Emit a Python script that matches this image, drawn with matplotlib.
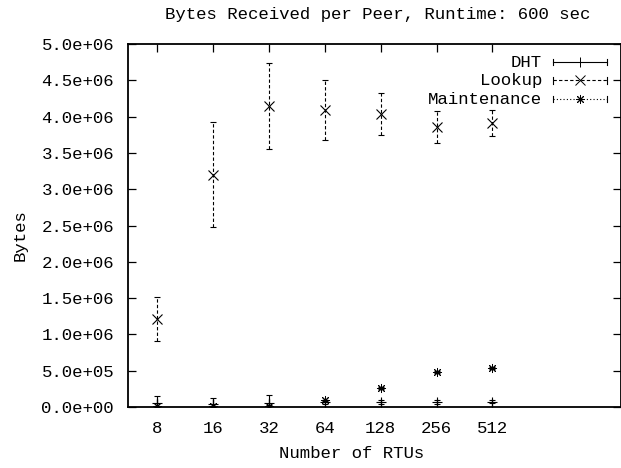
import matplotlib
matplotlib.use("Agg")
import matplotlib.pyplot as plt
from matplotlib.ticker import FuncFormatter
import numpy as np

# data
rtus = ['8', '16', '32', '64', '128', '256', '512']

dht_mean = [0.05e6, 0.04e6, 0.05e6, 0.07e6, 0.07e6, 0.07e6, 0.07e6]
dht_err = [0.10e6, 0.08e6, 0.11e6, 0.03e6, 0.025e6, 0.025e6, 0.02e6]

lookup_mean = [1.21e6, 3.20e6, 4.15e6, 4.09e6, 4.04e6, 3.86e6, 3.91e6]
lookup_err = [0.30e6, 0.72e6, 0.59e6, 0.41e6, 0.29e6, 0.22e6, 0.18e6]

maint_mean = [0.01e6, 0.01e6, 0.02e6, 0.09e6, 0.26e6, 0.48e6, 0.54e6]
maint_err = [0.01e6, 0.01e6, 0.01e6, 0.01e6, 0.01e6, 0.01e6, 0.01e6]

font = 'Liberation Mono'
fs = 12.5
plt.rcParams['font.family'] = font

fig = plt.figure(figsize=(6.21, 4.68), dpi=100)
ax = fig.add_axes([128 / 621, 61 / 468, 493 / 621, 363 / 468])

x = np.arange(1, len(rtus) + 1)

# DHT: solid error bars with plus markers
eb = ax.errorbar(x, dht_mean, yerr=dht_err, fmt='+', color='black', ms=7,
                 mew=0.8, elinewidth=0.8, capsize=2.5, capthick=0.8)

# Lookup: dashed error bars with x markers
eb2 = ax.errorbar(x, lookup_mean, yerr=lookup_err, fmt='x', color='black', ms=7,
                  mew=0.8, elinewidth=0.8, capsize=2.5, capthick=0.8)
eb2[2][0].set_linestyle((0, (3, 2)))

# Maintenance: dotted error bars with asterisks
eb3 = ax.errorbar(x, maint_mean, yerr=maint_err, fmt='none', color='black',
                  elinewidth=0.8, capsize=2.5, capthick=0.8)
eb3[2][0].set_linestyle((0, (1, 2)))
ax.plot(x, maint_mean, linestyle='none', marker=(8, 2, 0), ms=6.5, mew=0.7,
        color='black')

ax.set_xlim(0.48, 9.3)
ax.set_ylim(0, 5e6)
ax.set_xticks(x)
ax.set_xticklabels(rtus)
ax.set_yticks(np.arange(0, 5.01e6, 0.5e6))
ax.yaxis.set_major_formatter(FuncFormatter(lambda v, p: '%.1e' % v))

ax.tick_params(direction='in', length=6, width=0.9, top=True, right=True,
               labelsize=fs, pad=10)
for s in ax.spines.values():
    s.set_linewidth(1.3)

# gnuplot-style key, drawn by hand
keys = ['DHT', 'Lookup', 'Maintenance']
key_y = [0.950, 0.900, 0.848]
key_ls = ['-', (0, (3, 2)), (0, (1, 2))]
key_mk = ['+', 'x', (8, 2, 0)]
for lab, yy, ls, mk in zip(keys, key_y, key_ls, key_mk):
    ax.text(0.840, yy, lab, transform=ax.transAxes, ha='right', va='center',
            fontsize=fs)
    ax.plot([0.862, 0.972], [yy, yy], transform=ax.transAxes, color='black',
            lw=0.8, ls=ls, clip_on=False)
    ax.plot([0.862, 0.862], [yy - 0.009, yy + 0.009], transform=ax.transAxes,
            color='black', lw=0.8, clip_on=False)
    ax.plot([0.972, 0.972], [yy - 0.009, yy + 0.009], transform=ax.transAxes,
            color='black', lw=0.8, clip_on=False)
    ax.plot([0.917], [yy], transform=ax.transAxes, marker=mk, ms=6.5, mew=0.7,
            color='black', clip_on=False)

fig.text(378 / 621, 1 - 15 / 468, 'Bytes Received per Peer, Runtime: 600 sec',
         ha='center', va='center', fontsize=fs)
fig.text(352 / 621, 1 - 453 / 468, 'Number of RTUs', ha='center', va='center',
         fontsize=fs)
fig.text(20 / 621, 1 - 235 / 468, 'Bytes', ha='center', va='center',
         rotation=90, fontsize=fs)

fig.savefig('out.png', dpi=100)
